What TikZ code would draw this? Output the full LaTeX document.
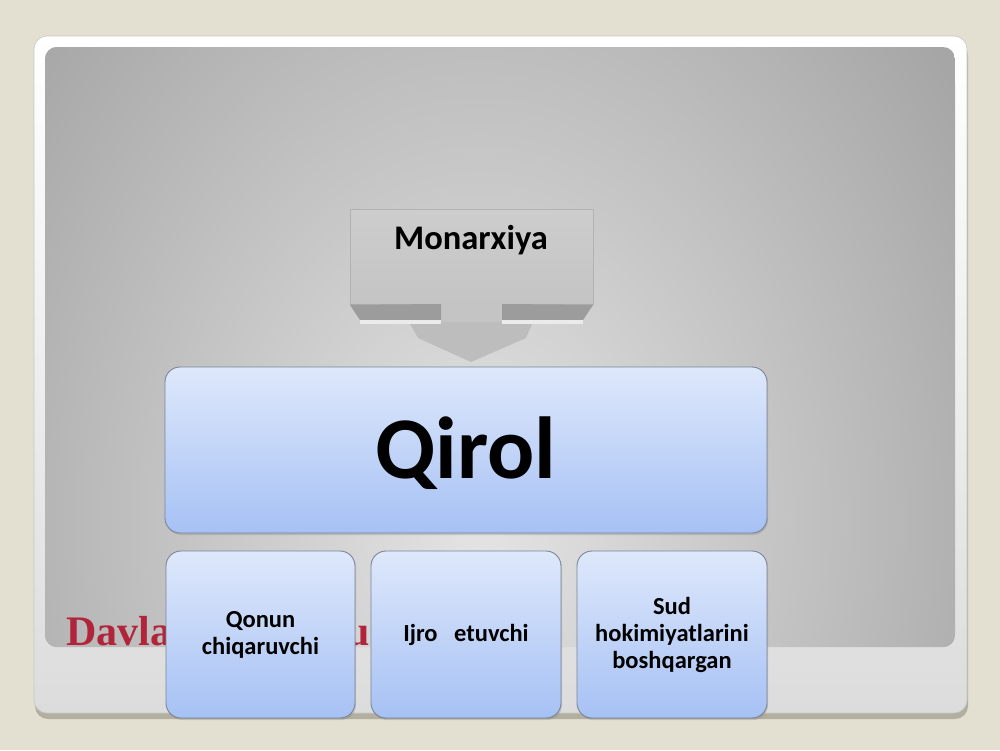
\documentclass[tikz,border=0pt]{standalone}
\usepackage{fontspec}
\setmainfont{Carlito}
\newfontfamily\davserif{Liberation Serif}
\usetikzlibrary{shadows}
\definecolor{bgc}{HTML}{E3E0D1}
\definecolor{shadowc}{HTML}{B2AFA1}
\definecolor{framebot}{HTML}{DCDCDC}
\definecolor{frameedge}{HTML}{C8C8C8}
\definecolor{panelout}{HTML}{A6A6A6}
\definecolor{panelin}{HTML}{E4E4E4}
\definecolor{bluetop}{HTML}{DEE8FB}
\definecolor{bluebot}{HTML}{A6C1F4}
\definecolor{blueborder}{HTML}{7A8496}
\definecolor{davred}{HTML}{B0253A}
\definecolor{montop}{HTML}{CDCDCD}
\definecolor{monbot}{HTML}{C4C4C4}
\definecolor{monband}{HTML}{9C9C9C}
\definecolor{arrowc}{HTML}{BDBDBD}
\tikzset{
  bluebox/.style={draw=blueborder, line width=0.9pt, rounded corners=15pt,
    top color=bluetop, bottom color=bluebot,
    drop shadow={opacity=0.3, shadow xshift=1pt, shadow yshift=-2pt},
    font=\fontsize{24.5}{27}\selectfont\bfseries, align=center, inner sep=0pt},
  monbox/.style={draw=white!70!black, line width=0.5pt, top color=montop, bottom color=monbot, inner sep=0pt},
  titlefont/.style={inner sep=0pt, font=\davserif\fontsize{42}{48}\selectfont\bfseries, text=davred},
}
\begin{document}
\begin{tikzpicture}[x=1pt,y=-1pt]
\useasboundingbox (0,0) rectangle (1000,750);
\fill[bgc] (0,0) rectangle (1000,750);
% frame shadow and frame
\fill[shadowc, rounded corners=13pt] (35,42) rectangle (968,719);
\draw[frameedge, line width=0.6pt, rounded corners=13pt, top color=white, bottom color=framebot] (34,36) rectangle (967,713);
% inner panel
\begin{scope}
\clip[rounded corners=12pt] (45,47) rectangle (955,647);
\fill[panelout] (45,47) rectangle (955,647);
\shade[inner color=panelin, outer color=panelout] (480,520) ellipse (580pt and 760pt);
\end{scope}
% title (partly hidden behind the boxes)
\node[titlefont, anchor=base west] (title) at (66,645) {Davla};
\node[titlefont, anchor=base east] (titleu) at (370,645) {u};
% Monarxiya box and arrow
\node[monbox, minimum width=243pt, minimum height=95pt] (mon) at (471.5,257) {};
\node[anchor=base, inner sep=0pt, font=\fontsize{34.5}{40}\selectfont\bfseries] (montxt) at (471,249) {Monarxiya};
\fill[arrowc] (441,304) -- (502,304) -- (502,324) -- (532,324) -- (526,338) -- (471,362) -- (418,338) -- (410,324) -- (441,324) -- cycle;
\fill[monbot] (441,304) rectangle (502,322);
\fill[monband] (mon.south west) -- (441,304) -- (441,320) -- (360,320) -- cycle;
\fill[monband] (502,304) -- (mon.south east) -- (583,320) -- (502,320) -- cycle;
\fill[white!92!black] (360,320) rectangle (441,324);
\fill[white!92!black] (502,320) rectangle (583,324);
% Qirol
\node[bluebox, minimum width=602pt, minimum height=166pt] (qirol) at (466,450) {};
\node[anchor=base, inner sep=0pt, font=\fontsize{88}{96}\selectfont\bfseries] (qtxt) at (466,478) {Qirol};
% bottom boxes
\node[bluebox, minimum width=189pt, minimum height=167pt] (b1) at (260.5,634.5) {Qonun\\chiqaruvchi};
\node[bluebox, minimum width=190pt, minimum height=167pt] (b2) at (466,634.5) {Ijro\ \ \ etuvchi};
\node[bluebox, minimum width=190pt, minimum height=167pt] (b3) at (672,634.5) {Sud\\hokimiyatlarini\\boshqargan};
\end{tikzpicture}
\end{document}
